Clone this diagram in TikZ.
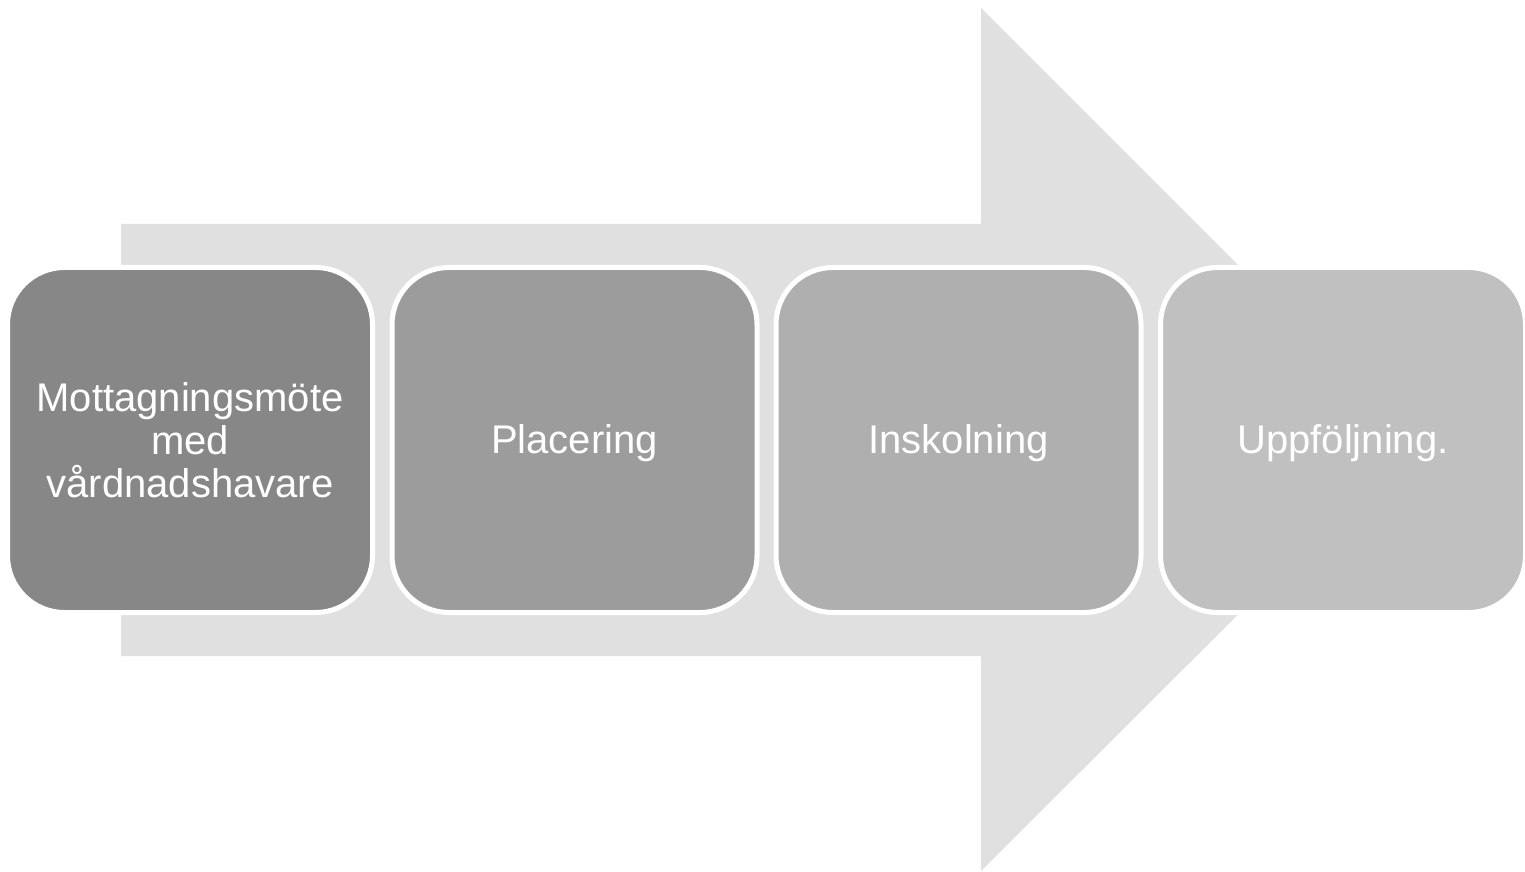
\documentclass[tikz,border=0pt]{standalone}
\usepackage{fontspec}
\setmainfont{Liberation Sans}
\definecolor{arrowgray}{HTML}{E0E0E0}
\definecolor{stepa}{HTML}{878787}
\definecolor{stepb}{HTML}{9C9C9C}
\definecolor{stepc}{HTML}{AFAFAF}
\definecolor{stepd}{HTML}{C0C0C0}
\begin{document}
\begin{tikzpicture}[x=1pt,y=1pt,
  stage/.style={draw=white,line width=5pt,rounded corners=57pt,
    minimum width=365pt,minimum height=345pt,inner sep=0pt,
    text=white,align=center,
    font=\fontsize{40}{43}\selectfont},
  oneline/.style={text height=36pt,text depth=8.5pt}]
  \useasboundingbox (0,0) rectangle (1525,871);

  \fill[arrowgray] (121,215) -- (121,647) -- (981,647) -- (981,863)
    -- (1413,431) -- (981,0) -- (981,215) -- cycle;

  \draw (190,431) node[stage,fill=stepa] (meet) {Mottagningsmöte\\med\\vårdnadshavare};
\draw (574.5,431) node[stage,oneline,fill=stepb] (place) {Placering};
\draw (958.5,431) node[stage,oneline,fill=stepc] (intro) {Inskolning};
\draw (1343,431) node[stage,oneline,fill=stepd] (follow) {Uppföljning.};

\end{tikzpicture}
\end{document}
